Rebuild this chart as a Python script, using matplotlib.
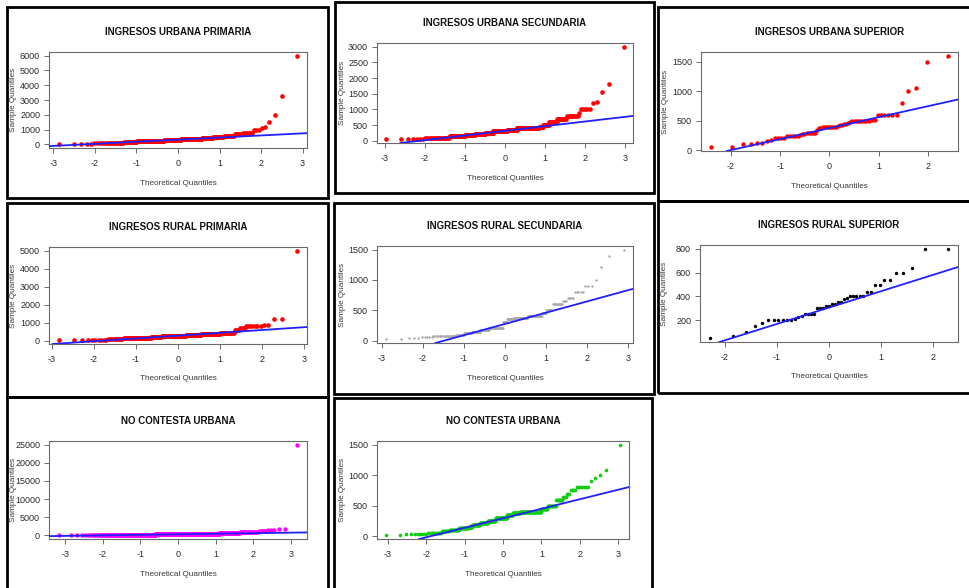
import matplotlib
matplotlib.use("Agg")
import matplotlib.pyplot as plt
from matplotlib.patches import Rectangle
import numpy as np
from statistics import NormalDist

plt.rcParams["font.family"] = ["Liberation Sans", "DejaVu Sans"]

W, H = 970, 588

# ---------------- data (sorted sample values and their repeat counts) ----------------
titles = ["INGRESOS URBANA PRIMARIA", "INGRESOS URBANA SECUNDARIA", "INGRESOS URBANA SUPERIOR",
          "INGRESOS RURAL PRIMARIA", "INGRESOS RURAL SECUNDARIA", "INGRESOS RURAL SUPERIOR",
          "NO CONTESTA URBANA", "NO CONTESTA URBANA"]
x_label = "Theoretical Quantiles"
y_label = "Sample Quantiles"

urb_pri_values = [0, 20, 40, 50, 80, 100, 150, 200, 230, 260, 300, 350, 400, 420, 500, 600, 700,
                  800, 1000, 1100, 1200, 1500, 2000, 3300, 6000]
urb_pri_counts = [1, 1, 1, 2, 8, 11, 16, 15, 17, 20, 40, 30, 18, 20, 16, 12, 7, 6, 3, 1, 1, 1, 1, 1, 1]

urb_sec_values = [50, 60, 80, 100, 150, 200, 220, 250, 300, 350, 400, 420, 450, 500, 600, 700, 800,
                  900, 1000, 1200, 1250, 1550, 1800, 3000]
urb_sec_counts = [4, 3, 8, 12, 25, 23, 27, 24, 46, 32, 35, 26, 9, 11, 13, 12, 9, 1, 5, 1, 1, 1, 1, 1]

urb_sup_values = [50, 50, 100, 110, 120, 125, 150, 180, 200, 200, 200, 200, 240, 240, 250, 250, 250,
                  260, 270, 280, 290, 300, 300, 300, 300, 350, 370, 380, 390, 400, 400, 400, 400, 400,
                  400, 400, 410, 420, 430, 440, 450, 460, 480, 500, 500, 500, 500, 500, 500, 500, 500,
                  510, 520, 600, 600, 600, 600, 600, 600, 800, 1000, 1050, 1500, 1600]
urb_sup_counts = [1] * len(urb_sup_values)

rur_pri_values = [30, 50, 60, 80, 100, 150, 190, 220, 250, 300, 350, 400, 450, 600, 700, 800, 900,
                  1200, 5000]
rur_pri_counts = [1, 2, 2, 5, 11, 19, 17, 19, 21, 30, 29, 29, 15, 4, 4, 7, 2, 2, 1]

rur_sec_values = [20, 30, 40, 50, 60, 70, 80, 100, 120, 150, 180, 200, 300, 350, 380, 400, 450, 500,
                  600, 650, 700, 800, 900, 1000, 1220, 1400, 1500]
rur_sec_counts = [1, 1, 1, 2, 5, 11, 9, 11, 14, 16, 19, 35, 10, 16, 33, 28, 7, 9, 11, 4, 5, 5, 3, 1,
                  1, 1, 1]

rur_sup_values = [50, 70, 100, 150, 180, 200, 200, 200, 200, 200, 200, 215, 230, 240, 250, 250, 250,
                  250, 300, 300, 300, 320, 320, 340, 340, 350, 350, 380, 390, 400, 400, 400, 400, 400,
                  440, 440, 500, 500, 540, 540, 600, 600, 640, 800, 800]
rur_sup_counts = [1] * len(rur_sup_values)

nc_urb1_values = [0, 20, 50, 80, 100, 150, 200, 250, 300, 350, 400, 500, 600, 700, 800, 1000, 1200,
                  1500, 1600, 1800, 25000]
nc_urb1_counts = [1, 2, 4, 8, 22, 55, 94, 74, 107, 78, 70, 72, 38, 21, 14, 9, 5, 2, 1, 2, 1]

nc_urb2_values = [15, 30, 35, 40, 50, 60, 80, 100, 130, 150, 190, 220, 250, 300, 350, 380, 400, 450,
                  500, 600, 650, 700, 750, 800, 900, 950, 1000, 1080, 1500]
nc_urb2_counts = [2, 1, 1, 6, 7, 6, 11, 19, 24, 12, 26, 30, 32, 50, 25, 31, 70, 15, 17, 10, 4, 4, 5,
                  7, 1, 1, 1, 1, 1]

x_ticks = [[-3, -2, -1, 0, 1, 2, 3], [-3, -2, -1, 0, 1, 2, 3], [-2, -1, 0, 1, 2],
           [-3, -2, -1, 0, 1, 2, 3], [-3, -2, -1, 0, 1, 2, 3], [-2, -1, 0, 1, 2],
           [-3, -2, -1, 0, 1, 2, 3], [-3, -2, -1, 0, 1, 2, 3]]
y_ticks = [[0, 1000, 2000, 3000, 4000, 5000, 6000], [0, 500, 1000, 1500, 2000, 2500, 3000],
           [0, 500, 1000, 1500], [0, 1000, 2000, 3000, 4000, 5000], [0, 500, 1000, 1500],
           [200, 400, 600, 800], [0, 5000, 10000, 15000, 20000, 25000], [0, 500, 1000, 1500]]

samples = [(urb_pri_values, urb_pri_counts), (urb_sec_values, urb_sec_counts),
           (urb_sup_values, urb_sup_counts), (rur_pri_values, rur_pri_counts),
           (rur_sec_values, rur_sec_counts), (rur_sup_values, rur_sup_counts),
           (nc_urb1_values, nc_urb1_counts), (nc_urb2_values, nc_urb2_counts)]

# ---------------- style / layout (pixels) ----------------
point_colors = ["#ff0000", "#ff0000", "#ff0000", "#ff0000", "#a8a8a8", "#000000", "#ff00ff", "#11cc11"]
point_sizes = [11, 11, 10, 11, 3, 6, 10, 7]
frames = [(7, 7, 328, 198), (335, 2, 654, 193), (658, 7, 980, 201),
          (7, 203, 328, 397), (334, 203, 654, 394), (658, 201, 980, 393),
          (7, 397, 328, 600), (334, 398, 652, 600)]
axes_box = [(49, 52, 307, 148), (377, 43, 633, 143), (701, 52, 958, 151),
            (49, 247, 307, 344), (377, 246, 633, 343), (700, 245, 958, 342),
            (49, 441, 307, 539), (377, 441, 629, 539)]

fig = plt.figure(figsize=(W / 100, H / 100), dpi=100)
fig.patch.set_facecolor("white")

nd = NormalDist()


def fx(px):
    return px / W


def fy(py):
    return 1 - py / H


for k in range(8):
    x0, y0, x1, y1 = frames[k]
    fig.patches.append(Rectangle((fx(x0), fy(y1)), fx(x1 - x0), (y1 - y0) / H,
                                 transform=fig.transFigure, fill=False, edgecolor="#000000",
                                 linewidth=2.0, zorder=0))

    ax0, ay0, ax1, ay1 = axes_box[k]
    ax = fig.add_axes([fx(ax0), fy(ay1), fx(ax1 - ax0), (ay1 - ay0) / H])
    vals, cnts = samples[k]
    sample = np.sort(np.repeat(np.array(vals, dtype=float), cnts))
    n = len(sample)
    a = 3 / 8 if n <= 10 else 0.5
    p = (np.arange(1, n + 1) - a) / (n + 1 - 2 * a)
    xq = np.array([nd.inv_cdf(v) for v in p])

    ax.scatter(xq, sample, s=point_sizes[k], color=point_colors[k], linewidths=0, zorder=2)

    # qqline through the quartiles
    qy = np.quantile(sample, [0.25, 0.75])
    qx = np.array([nd.inv_cdf(0.25), nd.inv_cdf(0.75)])
    slope = (qy[1] - qy[0]) / (qx[1] - qx[0])
    inter = qy[0] - slope * qx[0]
    ax.axline((0, inter), slope=slope, color="#2020ff", linewidth=1.3, zorder=3)

    xr = xq.max() - xq.min()
    yr = sample.max() - sample.min()
    ax.set_xlim(xq.min() - 0.04 * xr, xq.max() + 0.04 * xr)
    ax.set_ylim(sample.min() - 0.04 * yr, sample.max() + 0.04 * yr)

    ax.set_xticks(x_ticks[k])
    ax.set_yticks(y_ticks[k])
    ax.set_xticklabels([str(t) for t in x_ticks[k]])
    ax.set_yticklabels([str(t) for t in y_ticks[k]])
    ax.tick_params(axis="both", direction="out", length=3.6, width=0.6, color="#555555",
                   labelsize=6.5, labelcolor="#2a2a2a")
    ax.tick_params(axis="x", pad=4.5)
    ax.tick_params(axis="y", pad=2.8)
    for sp in ax.spines.values():
        sp.set_color("#6a6a6a")
        sp.set_linewidth(0.8)
    ax.set_facecolor("white")

    # texts
    cx = (ax0 + ax1) / 2
    fig.text(fx(cx), fy(ay0 - 20), titles[k], ha="center", va="center", fontsize=7.0,
             fontweight="bold", color="#111111")
    fig.text(fx(cx), fy(ay1 + 35), x_label, ha="center", va="center", fontsize=5.9, color="#3a3a3a")
    fig.text(fx(ax0 - 35), fy((ay0 + ay1) / 2), y_label, ha="center", va="center", fontsize=5.9,
             rotation=90, color="#3a3a3a")

fig.savefig("out.png", dpi=100, facecolor="white")
